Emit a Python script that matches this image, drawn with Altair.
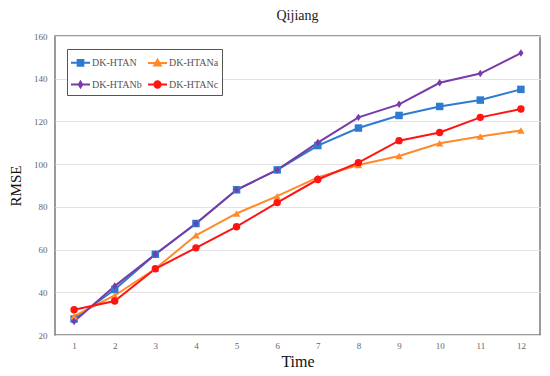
import altair as alt
import pandas as pd

times = list(range(1, 13))
series_names = ["DK-HTAN", "DK-HTANa", "DK-HTANb", "DK-HTANc"]
legend_order = ["DK-HTAN", "DK-HTANb", "DK-HTANa", "DK-HTANc"]
dk_htan = [27.5, 41.3, 57.8, 72.2, 88.0, 97.3, 108.7, 116.9, 122.8, 127.0, 130.0, 135.0]
dk_htana = [28.8, 38.5, 51.0, 66.7, 76.9, 85.0, 93.8, 99.6, 103.8, 109.8, 112.9, 115.8]
dk_htanb = [26.3, 42.9, 57.8, 72.2, 88.0, 97.3, 110.1, 121.9, 128.0, 138.1, 142.4, 152.0]
dk_htanc = [31.8, 35.9, 51.0, 60.8, 70.7, 82.0, 92.8, 100.7, 111.0, 114.8, 121.9, 125.8]
y_ticks = [20, 40, 60, 80, 100, 120, 140, 160]

colors = ["#2e7bcf", "#ff8a2a", "#7a3aa8", "#ff1414"]
legend_colors = ["#2e7bcf", "#7a3aa8", "#ff8a2a", "#ff1414"]
marker_shapes = ["square", "triangle-up", "M0,-1L0.7,0L0,1L-0.7,0Z", "circle"]
marker_sizes = [56, 55, 32, 60]
legend_shapes = [
    "M-1,0H1M-0.3,-0.3H0.3V0.3H-0.3Z",
    "M-1,0H1M0,-0.3L0.18,0L0,0.3L-0.18,0Z",
    "M-1,0H1M0,-0.35L0.35,0.25H-0.35Z",
    "M-1,0H1M0.33,0A0.33,0.33,0,1,1,-0.33,0A0.33,0.33,0,1,1,0.33,0Z",
]

rows = []
for name, vals in zip(series_names, [dk_htan, dk_htana, dk_htanb, dk_htanc]):
    for t, v in zip(times, vals):
        rows.append({"Time": t, "RMSE": v, "series": name})
df = pd.DataFrame(rows)

serif = "Liberation Serif"

x_enc = alt.X("Time:O", scale=alt.Scale(type="point", padding=0.47),
              axis=alt.Axis(title="Time", labelAngle=0, titleFontSize=16, titlePadding=3,
                            labelPadding=6, grid=False))
y_enc = alt.Y("RMSE:Q", scale=alt.Scale(domain=[20, 160], nice=False, zero=False),
              axis=alt.Axis(title="RMSE", values=y_ticks, titleFontSize=15, titlePadding=10,
                            labelPadding=8, grid=True))

color_scale = alt.Scale(domain=series_names, range=colors)

base = alt.Chart(df)

lines = base.mark_line(strokeWidth=2).encode(
    x=x_enc, y=y_enc,
    color=alt.Color("series:N", scale=color_scale, legend=None),
)

points = base.mark_point(filled=True, opacity=1).encode(
    x=x_enc, y=y_enc,
    color=alt.Color("series:N", scale=color_scale, legend=None),
    shape=alt.Shape("series:N", scale=alt.Scale(domain=series_names, range=marker_shapes), legend=None),
    size=alt.Size("series:N", scale=alt.Scale(domain=series_names, range=marker_sizes), legend=None),
)

leg = alt.Legend(
    title=None, orient="none", legendX=12, legendY=13, columns=2,
    labelFont=serif, labelFontSize=10, labelColor="#555",
    symbolSize=360, symbolStrokeWidth=2, strokeColor="#555", fillColor="white",
    padding=3, columnPadding=2, rowPadding=4, labelOffset=1,
)

legend_layer = base.mark_point(filled=True, opacity=1).encode(
    x=x_enc, y=y_enc,
    fill=alt.Fill("series:N", scale=alt.Scale(domain=legend_order, range=legend_colors), legend=leg),
    stroke=alt.Stroke("series:N", scale=alt.Scale(domain=legend_order, range=legend_colors), legend=leg),
    shape=alt.Shape("series:N", scale=alt.Scale(domain=legend_order, range=legend_shapes), legend=leg),
).transform_filter("false")

chart = alt.layer(lines, points, legend_layer).resolve_scale(
    shape="independent", size="independent", color="independent",
    fill="independent", stroke="independent",
).properties(
    width=485, height=299,
    autosize=alt.AutoSizeParams(type="none"),
    padding={"left": 47, "top": 28, "right": 2, "bottom": 33},
    title=alt.TitleParams("Qijiang", font=serif, fontSize=14, fontWeight="normal",
                          color="#222", offset=9),
).configure_view(
    stroke="#7a7a7a", strokeWidth=1.5,
).configure_axis(
    domain=False, ticks=False, labelFont=serif, labelFontSize=9, labelColor="#666",
    titleFont=serif, titleFontWeight="normal", titleColor="#111", gridColor="#e3e3e3",
    gridWidth=1.2,
)

chart.save("out.html", embed_options={"renderer": "svg", "actions": False})
